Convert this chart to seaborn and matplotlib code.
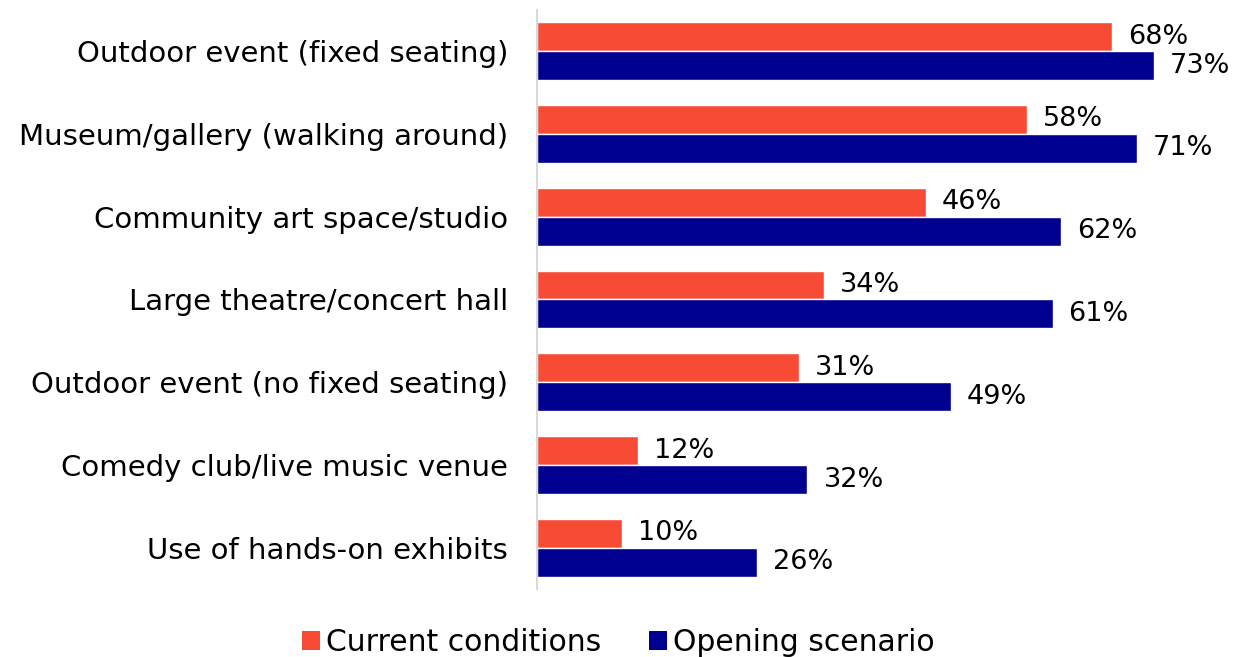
import matplotlib
matplotlib.use("Agg")
import matplotlib.pyplot as plt
import seaborn as sns
import pandas as pd
from matplotlib.patches import Patch

categories = [
    "Outdoor event (fixed seating)",
    "Museum/gallery (walking around)",
    "Community art space/studio",
    "Large theatre/concert hall",
    "Outdoor event (no fixed seating)",
    "Comedy club/live music venue",
    "Use of hands-on exhibits",
]
current = [68, 58, 46, 34, 31, 12, 10]
opening = [73, 71, 62, 61, 49, 32, 26]
series_names = ["Current conditions", "Opening scenario"]
colors = ["#F84B35", "#000090"]

df = pd.DataFrame({
    "category": categories * 2,
    "value": current + opening,
    "series": [series_names[0]] * len(categories) + [series_names[1]] * len(categories),
})

sns.set_theme(style="white")
plt.rcParams["font.family"] = ["DejaVu Sans"]

fig = plt.figure(figsize=(12.36, 6.57), dpi=100)
ax = fig.add_axes([0.4345, 0.1029, 0.5607, 0.8825])

sns.barplot(data=df, y="category", x="value", hue="series", orient="h",
            palette=colors, width=0.7, saturation=1, ax=ax, legend=False)

for container in ax.containers:
    ax.bar_label(container, labels=[f"{int(v)}%" for v in container.datavalues],
                 padding=11.5, fontsize=19.5, color="black")

ax.set_xlim(0, 82)
ax.set_ylim(6.5, -0.5)
ax.set_xlabel("")
ax.set_ylabel("")
ax.set_xticks([])
ax.tick_params(axis="y", length=0, pad=21, labelsize=21)
for lbl in ax.get_yticklabels():
    lbl.set_color("black")
for s in ["top", "right", "bottom"]:
    ax.spines[s].set_visible(False)
ax.spines["left"].set_color("#d9d9d9")
ax.spines["left"].set_linewidth(1.5)

handles = [Patch(facecolor=c, edgecolor="none") for c in colors]
leg = fig.legend(handles, series_names, loc="center", bbox_to_anchor=(0.5, 0.022),
                 ncol=2, frameon=False, fontsize=21.5, handlelength=0.6, handleheight=0.6,
                 handletextpad=0.2, columnspacing=1.6)
for t in leg.get_texts():
    t.set_color("black")

fig.savefig("out.png", dpi=100)
